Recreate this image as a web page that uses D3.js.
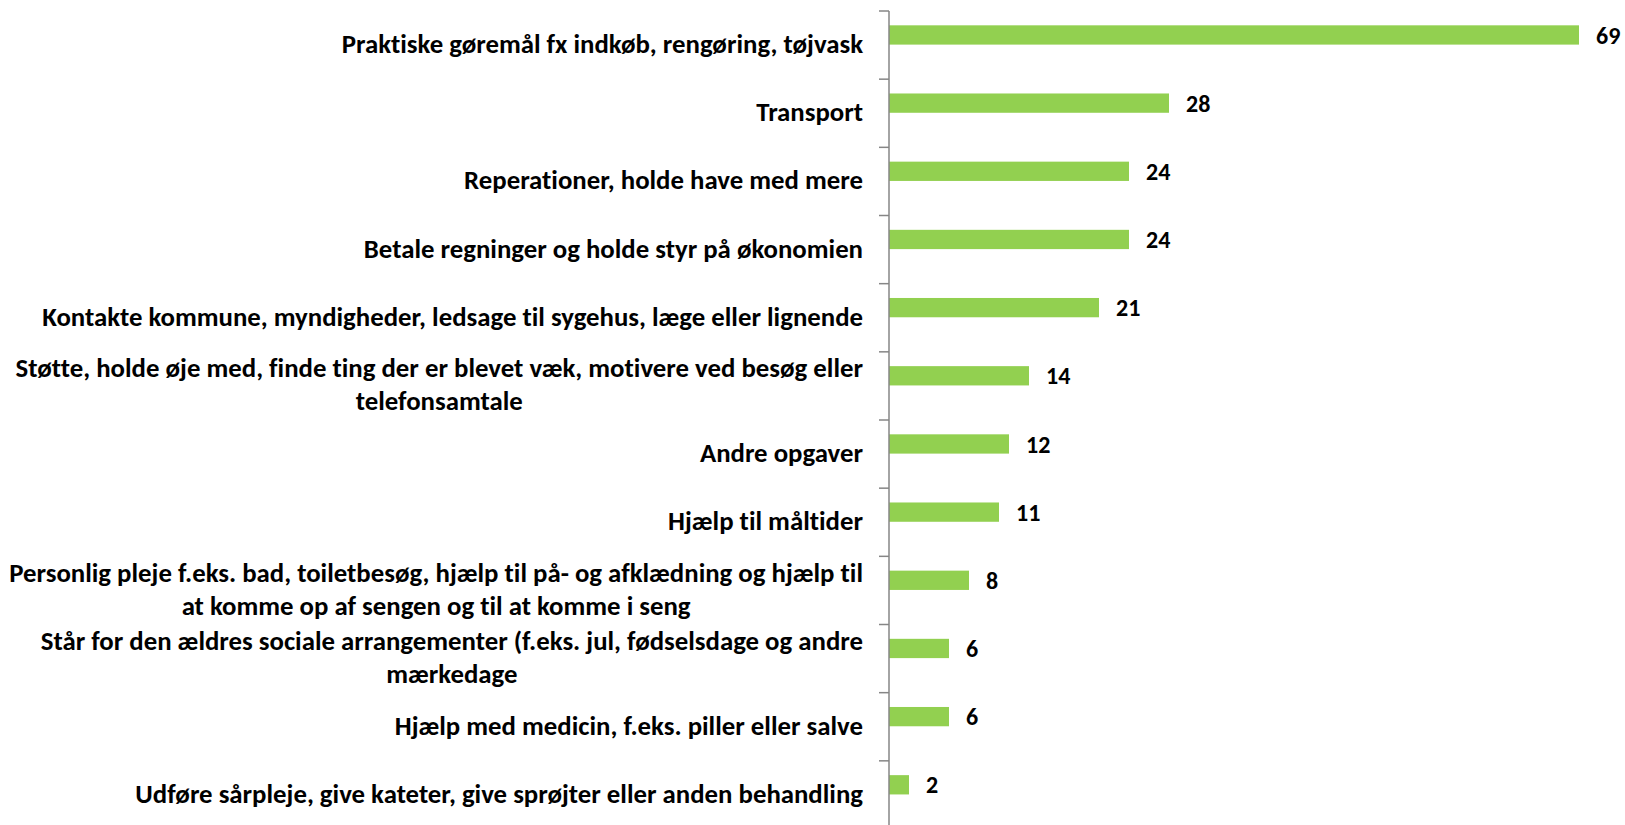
<!DOCTYPE html>
<html>
<head>
<meta charset="utf-8">
<script src="https://cdn.jsdelivr.net/npm/d3@7"></script>
<style>
  body { margin: 0; background: #fff; }
  svg { display: block; }
  .lbl, .val { font-family: Carlito, Calibri, Lato, sans-serif; font-weight: bold; fill: #000; font-variant-ligatures: none; }
</style>
</head>
<body>
<svg id="chart" width="1625" height="825"></svg>
<script>
const categories = [
  'Praktiske gøremål fx indkøb, rengøring, tøjvask',
  'Transport',
  'Reperationer, holde have med mere',
  'Betale regninger og holde styr på økonomien',
  'Kontakte kommune, myndigheder, ledsage til sygehus, læge eller lignende',
  'Støtte, holde øje med, finde ting der er blevet væk, motivere ved besøg eller telefonsamtale',
  'Andre opgaver',
  'Hjælp til måltider',
  'Personlig pleje f.eks. bad, toiletbesøg, hjælp til på- og afklædning og hjælp til at komme op af sengen og til at komme i seng',
  'Står for den ældres sociale arrangementer (f.eks. jul, fødselsdage og andre mærkedage',
  'Hjælp med medicin, f.eks. piller eller salve',
  'Udføre sårpleje, give kateter, give sprøjter eller anden behandling'
];
const values = [69, 28, 24, 24, 21, 14, 12, 11, 8, 6, 6, 2];

const svg = d3.select('#chart');
const axisX = 889;
const plotTop = 11, plotBottom = 829;
const fontSize = 26.8;
const valSize = 24;

const y = d3.scaleBand()
  .domain(categories)
  .range([plotTop, plotBottom])
  .padding(0);

const x = d3.scaleLinear()
  .domain([0, 70])
  .range([axisX, axisX + 700]);

const barOffset = y.bandwidth() * 0.21;
const barH = y.bandwidth() * 0.283;

// bars
svg.append('g')
  .selectAll('rect')
  .data(values)
  .join('rect')
  .attr('x', x(0))
  .attr('y', (d, i) => y(categories[i]) + barOffset)
  .attr('width', d => x(d) - x(0))
  .attr('height', barH)
  .attr('fill', '#92d050');

// value labels
svg.append('g')
  .selectAll('text')
  .data(values)
  .join('text')
  .attr('class', 'val')
  .attr('x', d => x(d) + 17)
  .attr('y', (d, i) => y(categories[i]) + barOffset + barH / 2)
  .attr('dy', '0.36em')
  .attr('font-size', valSize + 'px')
  .text(d => d);

// axis line + ticks at band edges
const axis = svg.append('g').attr('stroke', '#868686').attr('stroke-width', 1.5);
axis.append('line')
  .attr('x1', axisX).attr('x2', axisX)
  .attr('y1', plotTop).attr('y2', plotBottom);
axis.selectAll('.tk')
  .data(categories.map(c => y(c)).concat([plotBottom]))
  .join('line')
  .attr('class', 'tk')
  .attr('x1', axisX - 10).attr('x2', axisX)
  .attr('y1', d => d).attr('y2', d => d);

// category labels, wrapped
const maxW = 875;
const lineH = 33;
const labels = svg.append('g')
  .selectAll('text')
  .data(categories)
  .join('text')
  .attr('class', 'lbl')
  .attr('font-size', fontSize + 'px')
  .attr('text-anchor', 'middle');

labels.each(function (c) {
  const t = d3.select(this);
  const words = c.split(' ');
  const lines = [];
  let cur = [];
  const probe = t.append('tspan');
  words.forEach(w => {
    const test = cur.concat([w]).join(' ');
    probe.text(test);
    if (probe.node().getComputedTextLength() > maxW && cur.length) {
      lines.push(cur.join(' '));
      cur = [w];
    } else {
      cur.push(w);
    }
  });
  lines.push(cur.join(' '));
  probe.remove();

  // right-aligned block, lines centred within it
  const widths = lines.map(l => { const s = t.append('tspan').text(l); const w = s.node().getComputedTextLength(); s.remove(); return w; });
  const blockW = d3.max(widths);
  const cx = axisX - 26 - blockW / 2;
  const cy = y(c) + y.bandwidth() / 2 - (lines.length - 1) * lineH / 2;
  lines.forEach((l, i) => {
    t.append('tspan')
      .attr('x', cx)
      .attr('y', cy + i * lineH)
      .attr('dy', '0.3em')
      .text(l);
  });
});
</script>
</body>
</html>
